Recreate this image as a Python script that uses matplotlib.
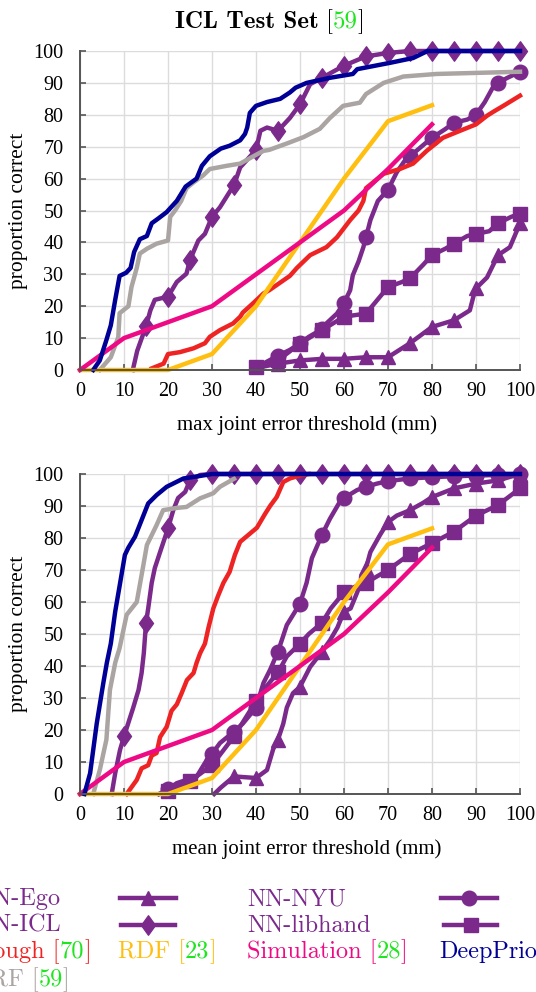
import numpy as np
import matplotlib
matplotlib.use('Agg')
import matplotlib.pyplot as plt
from matplotlib.path import Path

# цвета методов
PURPLE = '#7b2a8c'
RED = '#ee2424'
GOLD = '#ffbf10'
PINK = '#ee0a84'
NAVY = '#000096'
GRAY = '#aaa4a2'
GREEN = '#1fe51f'

ticks = [0, 10, 20, 30, 40, 50, 60, 70, 80, 90, 100]

# ---- max joint error ----
deep_max_x = [3, 4.5, 6, 7, 8, 9, 10.5, 11.5, 12.3, 13.6, 15.2, 16.3, 17.8, 19.7, 22, 24, 26.5, 27.7,
              29.5, 32, 34, 36.4, 37.5, 38, 38.6, 40, 42.5, 45.5, 47.7, 49, 51.5, 56.8, 62, 63, 70.5,
              75.7, 79, 100]
deep_max_y = [0, 3, 9.4, 14, 22, 29.5, 30.5, 32, 37, 41, 42, 46, 47.5, 49.5, 53, 57.5, 60, 64,
              67, 69.4, 70.3, 72, 74, 76, 80.6, 82.8, 84, 85, 87, 88.5, 90, 91.6, 92.8, 94.3, 96.3,
              97.8, 100, 100]

rf_max_x = [4.5, 7, 8.7, 9, 11, 11.7, 12.9, 13.6, 15.2, 17.4, 20, 20.5, 21.6, 23, 24.2, 25.8, 28,
            29.5, 33.3, 36.4, 39.4, 41.7, 43, 47, 50.8, 54.5, 56.8, 59.8, 63.6, 65, 69, 73.5, 81, 100]
rf_max_y = [0, 4, 10.3, 17.8, 20, 26, 32, 36.5, 38, 39.6, 40.6, 48, 50, 53, 57, 58.8, 61,
            63, 64, 64.7, 67, 68.7, 69, 71, 73, 75.6, 79, 82.8, 83.8, 86.5, 90, 92, 92.8, 93.5]

icl_max_x = [12, 13, 15, 16, 17, 20, 22, 24.2, 25, 26.9, 28.4, 30, 31.8, 35, 36.4, 40, 41, 42.5, 45,
             47.7, 50, 52.3, 55, 60, 63.6, 65, 70, 75, 80, 85, 90, 95, 100]
icl_max_y = [0, 6, 13.7, 18.7, 22, 23, 27.6, 30.2, 34.5, 40.6, 42.7, 48, 51, 58, 63.5, 69, 75, 76, 75,
             79, 83.3, 89.6, 91.6, 95.4, 97.5, 98.3, 99.4, 100, 100, 100, 100, 100, 100]

nyu_max_x = [41, 45, 47.7, 50, 52, 55, 56, 58.4, 60, 61.4, 62, 63.3, 64.4, 65, 66, 67.7, 70, 72,
             74, 75, 78, 80, 83, 85, 88, 90, 92, 94, 95, 97, 100]
nyu_max_y = [1.5, 4.5, 6.3, 8.4, 10.4, 12.8, 14.6, 17.7, 21, 25, 29.7, 34, 38.5, 41.6, 47, 53, 56.5, 62,
             66, 67, 70.5, 72.8, 75.5, 77.5, 78.5, 80, 84, 89, 90, 91.5, 93.5]

lib_max_x = [40, 45, 50, 55, 60, 65, 67, 70, 73, 75, 78, 80, 83, 85, 88, 90, 93, 95, 98, 100]
lib_max_y = [1, 3, 8.3, 12.5, 16.7, 17.7, 21, 26, 27.5, 28.7, 33, 36, 38, 39.6, 42, 42.7, 43.5, 46, 48, 49]

ego_max_x = [41.5, 45, 50, 55, 60, 65, 70, 75, 80, 85, 88.6, 89.4, 90, 92.5, 95, 97.7, 99.3, 100]
ego_max_y = [1, 2, 3, 3.5, 3.5, 4, 4, 8.4, 13.5, 15.6, 18.7, 23, 25.6, 29, 36, 38.5, 43.7, 46]

hough_max_x = [16.3, 19, 20, 22.7, 25.8, 28.4, 29.5, 31.8, 34.8, 36.4, 37, 39.4, 41.7, 43, 47.7, 49.3,
               52.3, 56, 58.4, 61.4, 63.3, 64.4, 65, 69, 72.7, 75.7, 78.8, 82.5, 86.4, 90, 92.5, 94,
               96.2, 100]
hough_max_y = [0.5, 2, 5, 5.6, 6.8, 8.4, 10.4, 12.5, 14.6, 16.7, 18, 21, 24, 25, 29.5, 32,
               36, 38.5, 41.6, 47, 50, 53, 57, 61.5, 63, 64.7, 68.7, 72.8, 75, 77, 79.7, 81,
               82.8, 86]

rdf_x = [0, 10, 20, 30, 40, 50, 60, 70, 80]
rdf_y = [0, 0, 0, 5, 20, 40, 60, 78, 83]

sim_x = [0, 10, 20, 30, 40, 50, 60, 70, 80]
sim_y = [0, 10, 15, 20, 30, 40, 50, 63, 77]

# ---- mean joint error ----
deep_mean_x = [1, 2.3, 3.8, 5.3, 6.1, 7, 8, 9, 10.2, 11, 12.5, 14, 15.5, 17.4, 19.7, 23.5, 27.3, 30, 100]
deep_mean_y = [0, 6.5, 22, 34.7, 41, 47, 57, 65, 74.7, 77, 80.4, 85.6, 90.8, 93.4, 96, 98.6, 99.4, 100, 100]

rf_mean_x = [3, 4.5, 6, 6.8, 8, 9, 10.6, 12.9, 14.4, 15.2, 17.4, 18.9, 22, 24.2, 27.3, 30.3, 31.8, 35]
rf_mean_y = [0, 7.5, 17, 32.5, 41, 45.6, 56, 60, 71.5, 77.8, 84, 88.7, 89.4, 89.7, 92.4, 94, 96, 98.5]

icl_mean_x = [7.2, 8, 9.1, 10, 12.1, 13.3, 14, 14.5, 15, 15.5, 16.3, 17, 18.2, 20, 21.2, 22.3, 23.9, 25,
              27.3, 30, 35, 40, 45, 50, 55, 60, 65, 70, 75, 80, 85, 90, 95, 100]
icl_mean_y = [0, 6.5, 13.8, 18, 27, 32.5, 37.8, 44, 53.4, 58, 66, 70.6, 75.6, 83, 88.7, 92.5, 94.4, 98,
              99.7, 100, 100, 100, 100, 100, 100, 100, 100, 100, 100, 100, 100, 100, 100, 100]

hough_mean_x = [10.6, 12.9, 14, 15.5, 16.3, 17.4, 18.2, 19.7, 20.8, 22, 23.1, 24.3, 25.8, 26.5, 27.3,
                28.4, 29.2, 30.3, 31.4, 32.6, 34, 35.2, 36.4, 38.3, 40.2, 42, 43.2, 44.7, 46.2, 47.7,
                50.4, 52]
hough_mean_y = [0, 4.4, 8, 9, 12, 12.8, 17.8, 21, 26, 28, 31.5, 35.6, 37.8, 41, 44,
                47, 52, 58, 62, 66, 69.4, 74.7, 78.8, 81, 83.2, 87.4, 90, 92.8, 97.5, 98.6,
                99.7, 100]

nyu_mean_x = [18, 20, 22, 24.2, 26.5, 28.8, 30, 31.8, 35, 37, 40, 41.7, 43.2, 45, 47, 50, 51.5, 52.7,
              55, 56.8, 59, 60, 63, 65, 67.5, 70, 75, 80, 85, 90, 95, 100]
nyu_mean_y = [0, 1.5, 3.4, 4.4, 5.4, 10.6, 12.5, 15.9, 19.5, 22, 27, 34.7, 38.8, 44.5, 52.8, 59.5, 66, 73.7,
              81, 86, 91.2, 92.5, 95, 96, 97, 97.8, 98.6, 99, 99.3, 99.5, 99.7, 100]

lib_mean_x = [18, 20, 25, 30, 35, 40, 42, 45, 47, 50, 52, 55, 57, 60, 62, 65, 70, 75, 80, 85, 90, 95, 100]
lib_mean_y = [0, 1, 4, 9, 18, 29, 33, 38, 43, 47, 50, 53.5, 58, 63, 64.5, 66, 70, 75, 78.4, 82, 87, 90.3, 95.5]

ego_mean_x = [30.5, 32, 35, 40, 42.5, 43.9, 45, 46.2, 47, 48.4, 50, 52.3, 55, 56.8, 58.5, 60, 61.5, 63, 64,
              65, 66, 68.2, 70, 72, 75, 78, 80, 85, 90, 95, 100]
ego_mean_y = [0, 2, 5.5, 5, 7.5, 14, 17, 22, 27, 31.5, 33.5, 39.7, 44.5, 48, 52, 57, 58, 63, 67,
              70.6, 75.6, 81, 85, 87, 88.7, 91, 92.8, 95.5, 97, 98, 100]

plt.rcParams['font.family'] = 'Liberation Serif'

# ромб выше, чем шире
DIAMOND = Path([(0, 1), (0.72, 0), (0, -1), (-0.72, 0), (0, 1)],
               [Path.MOVETO, Path.LINETO, Path.LINETO, Path.LINETO, Path.CLOSEPOLY])

fig = plt.figure(figsize=(5.36, 9.92), dpi=100)
ax1 = fig.add_axes([80 / 536, 1 - 370 / 992, 440 / 536, 319 / 992])
ax2 = fig.add_axes([80 / 536, 1 - 794 / 992, 440 / 536, 320 / 992])


def marks(xs):
    return [i for i, x in enumerate(xs) if x % 5 == 0]


def draw(ax, data, xlabel):
    (ego_x, ego_y, icl_x, icl_y, nyu_x, nyu_y, lib_x, lib_y,
     rf_x, rf_y, h_x, h_y, d_x, d_y) = data
    kw = dict(lw=3.2, clip_on=False)
    ax.plot(ego_x, ego_y, color=PURPLE, marker='^', ms=10.5, markevery=marks(ego_x), **kw)
    ax.plot(icl_x, icl_y, color=PURPLE, marker=DIAMOND, ms=14, markevery=marks(icl_x), **kw)
    ax.plot(nyu_x, nyu_y, color=PURPLE, marker='o', ms=10.5, markevery=marks(nyu_x), **kw)
    ax.plot(lib_x, lib_y, color=PURPLE, marker='s', ms=9.5, markevery=marks(lib_x), **kw)
    ax.plot(rf_x, rf_y, color=GRAY, **kw)
    ax.plot(h_x, h_y, color=RED, **kw)
    ax.plot(rdf_x, rdf_y, color=GOLD, **kw)
    ax.plot(sim_x, sim_y, color=PINK, **kw)
    ax.plot(d_x, d_y, color=NAVY, **kw)

    ax.set_xlim(0, 100)
    ax.set_ylim(0, 100)
    ax.set_xticks(ticks)
    ax.set_yticks(ticks)
    ax.grid(True, color='#dcdcdc', lw=1)
    ax.set_axisbelow(True)
    for s in ['top', 'right']:
        ax.spines[s].set_visible(False)
    for s in ['left', 'bottom']:
        ax.spines[s].set_color('#555555')
        ax.spines[s].set_linewidth(1.4)
    ax.tick_params(direction='in', length=4, width=1.2, color='#555555', labelsize=14.5)
    ax.tick_params(axis='x', pad=9)
    ax.tick_params(axis='y', pad=12)
    ax.set_xlabel(xlabel, fontsize=15, labelpad=10)
    ax.xaxis.label.set_x(0.515)
    ax.set_ylabel('proportion correct', fontsize=15.5, labelpad=4)


draw(ax1, (ego_max_x, ego_max_y, icl_max_x, icl_max_y, nyu_max_x, nyu_max_y, lib_max_x, lib_max_y,
           rf_max_x, rf_max_y, hough_max_x, hough_max_y, deep_max_x, deep_max_y),
     'max joint error threshold (mm)')
draw(ax2, (ego_mean_x, ego_mean_y, icl_mean_x, icl_mean_y, nyu_mean_x, nyu_mean_y, lib_mean_x, lib_mean_y,
           rf_mean_x, rf_mean_y, hough_mean_x, hough_mean_y, deep_mean_x, deep_mean_y),
     'mean joint error threshold (mm)')

# оси в пикселях для заголовка и легенды
lax = fig.add_axes([0, 0, 1, 1], zorder=-1)
lax.set_xlim(0, 536)
lax.set_ylim(992, 0)
lax.axis('off')
renderer = fig.canvas.get_renderer()


def rich(x, y, parts, size, center=False):
    items = []
    for s, c, fam, gap in parts:
        t = lax.text(0, y, s, color=c, family=fam, fontsize=size, va='baseline', ha='left')
        items.append((t, t.get_window_extent(renderer).width, gap))
    if center:
        x -= sum(w + g for _, w, g in items) / 2
    for t, w, g in items:
        x += g
        t.set_x(x)
        x += w


rich(270, 28, [('ICL Test Set', 'k', 'cmb10', 0), ('[', 'k', 'cmr10', 7),
               ('59', GREEN, 'cmr10', 0), (']', 'k', 'cmr10', 0)], 18, center=True)

leg = 17.5
rich(-25, 905, [('NN-Ego', PURPLE, 'cmr10', 0)], leg)
rich(-25, 932, [('NN-ICL', PURPLE, 'cmr10', 0)], leg)
rich(-25, 958, [('Hough [', RED, 'cmr10', 0), ('70', GREEN, 'cmr10', 0), (']', RED, 'cmr10', 0)], leg)
rich(-25, 986, [('LRF [', GRAY, 'cmr10', 0), ('59', GREEN, 'cmr10', 0), (']', GRAY, 'cmr10', 0)], leg)
rich(118, 958, [('RDF [', GOLD, 'cmr10', 0), ('23', GREEN, 'cmr10', 0), (']', GOLD, 'cmr10', 0)], leg)
rich(247, 905, [('NN-NYU', PURPLE, 'cmr10', 0)], leg)
rich(247, 932, [('NN-libhand', PURPLE, 'cmr10', 0)], leg)
rich(247, 958, [('Simulation [', PINK, 'cmr10', 0), ('28', GREEN, 'cmr10', 0), (']', PINK, 'cmr10', 0)], leg)
rich(439, 958, [('DeepPrior', NAVY, 'cmr10', 0)], leg)

samples = [(120, 176, 898, '^', 10.5), (121, 175, 925, DIAMOND, 14),
           (441, 497, 898, 'o', 10.5), (444, 497, 925, 's', 9.5)]
for x0, x1, yy, m, size in samples:
    lax.plot([x0, x1], [yy, yy], color=PURPLE, lw=3.2)
    lax.plot([(x0 + x1) / 2], [yy], color=PURPLE, marker=m, ms=size)

fig.savefig('out.png', dpi=100)
